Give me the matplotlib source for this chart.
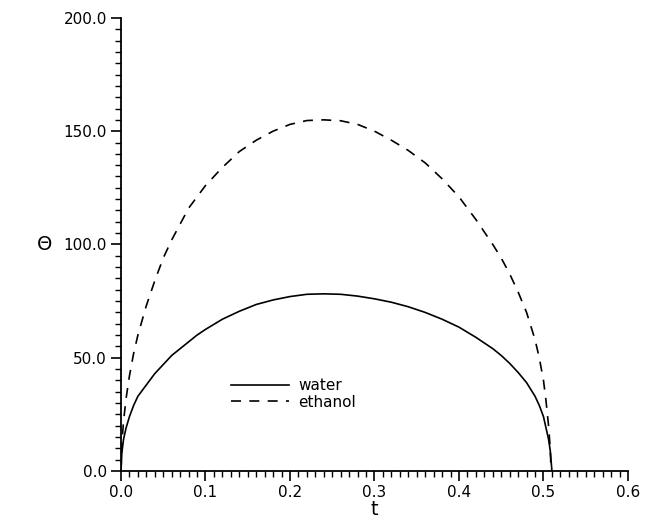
import matplotlib
matplotlib.use("Agg")
import matplotlib.pyplot as plt
from matplotlib.ticker import MultipleLocator, FormatStrFormatter

# time samples and temperature rise for the two liquids
t_water = [0.0, 0.001, 0.003, 0.006, 0.01, 0.015, 0.02, 0.03, 0.04, 0.05,
           0.06, 0.07, 0.08, 0.09, 0.1, 0.12, 0.14, 0.16, 0.18, 0.2,
           0.22, 0.24, 0.26, 0.28, 0.3, 0.32, 0.34, 0.36, 0.38, 0.4,
           0.42, 0.44, 0.45, 0.46, 0.47, 0.48, 0.49, 0.495, 0.5, 0.503,
           0.506, 0.508, 0.51]
theta_water = [0.0, 8, 14, 19, 24, 29, 33, 38, 43, 47,
               51, 54, 57, 60, 62.5, 67, 70.5, 73.5, 75.5, 77,
               78, 78.2, 78, 77.2, 76, 74.5, 72.5, 70, 67, 63.5,
               59, 54, 51, 47.5, 43.5, 39, 33, 29, 24, 19,
               14, 9, 0.0]

t_ethanol = [0.0, 0.001, 0.003, 0.006, 0.01, 0.015, 0.02, 0.03, 0.04, 0.05,
             0.06, 0.07, 0.08, 0.09, 0.1, 0.12, 0.14, 0.16, 0.18, 0.2,
             0.22, 0.24, 0.26, 0.28, 0.3, 0.32, 0.34, 0.36, 0.38, 0.4,
             0.42, 0.44, 0.45, 0.46, 0.47, 0.48, 0.49, 0.495, 0.5, 0.503,
             0.506, 0.508, 0.509]
theta_ethanol = [0.0, 12, 22, 32, 42, 52, 60, 73, 84, 94,
                 102, 109, 116, 121, 126, 134, 141, 146, 150, 153,
                 154.7, 155, 154.6, 153, 150, 146, 141.5, 136, 129, 121,
                 111, 100, 94, 87, 79, 70, 58, 50, 40, 31,
                 20, 10, 0.0]

fig = plt.figure(figsize=(6.45, 5.22), dpi=100)
ax = fig.add_axes([0.1876, 0.0977, 0.786, 0.868])

ax.plot(t_water, theta_water, color="black", lw=1.2, label="water")
ax.plot(t_ethanol, theta_ethanol, color="black", lw=1.2,
        linestyle=(0, (6, 5)), label="ethanol")

ax.set_xlim(0.0, 0.6)
ax.set_ylim(0.0, 200.0)
ax.spines["top"].set_visible(False)
ax.spines["right"].set_visible(False)
for s in ("left", "bottom"):
    ax.spines[s].set_linewidth(1.3)

ax.xaxis.set_major_locator(MultipleLocator(0.1))
ax.xaxis.set_minor_locator(MultipleLocator(0.01))
ax.yaxis.set_major_locator(MultipleLocator(50))
ax.yaxis.set_minor_locator(MultipleLocator(5))
ax.xaxis.set_major_formatter(FormatStrFormatter("%.1f"))
ax.yaxis.set_major_formatter(FormatStrFormatter("%.1f"))
ax.tick_params(which="major", direction="out", length=7, width=1.2,
               labelsize=11, pad=3)
ax.tick_params(which="minor", direction="out", length=4, width=1.0)

ax.set_xlabel("t", fontsize=14, labelpad=0)
ax.set_ylabel("Θ", fontsize=14, rotation=0, labelpad=14, va="center")

ax.legend(loc="lower left", bbox_to_anchor=(0.19, 0.105), frameon=False,
          fontsize=11, handlelength=3.8, handletextpad=0.6, labelspacing=0.1)

fig.savefig("out.png", dpi=100)
